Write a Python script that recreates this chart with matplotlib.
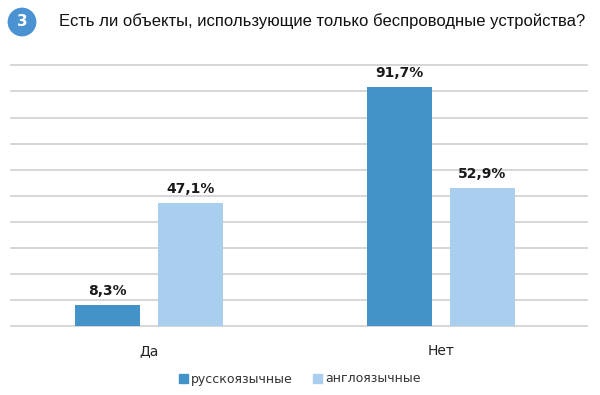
import matplotlib
matplotlib.use("Agg")
import matplotlib.pyplot as plt
from matplotlib.patches import Patch

# ────────────────────────────────────────
#   Data
# ────────────────────────────────────────
categories = ["Да", "Нет"]
series_names = ["русскоязычные", "англоязычные"]
russian_vals = [8.3, 91.7]
english_vals = [47.1, 52.9]
value_labels_ru = ["8,3%", "91,7%"]
value_labels_en = ["47,1%", "52,9%"]

title = "Есть ли объекты, использующие только беспроводные устройства?"

DARK = "#4393C8"
LIGHT = "#AACEEE"
GRID = "#CFCFCF"

fig = plt.figure(figsize=(6, 3.95), dpi=100, facecolor="white")
ax = fig.add_axes([11 / 600, 1 - 326.3 / 395, 576 / 600, 261 / 395])

x = list(range(len(categories)))
w = 0.223
off = 0.142
bars_ru = ax.bar([i - off for i in x], russian_vals, width=w, color=DARK, zorder=3)
bars_en = ax.bar([i + off for i in x], english_vals, width=w, color=LIGHT, zorder=3)

for bars, labels in ((bars_ru, value_labels_ru), (bars_en, value_labels_en)):
    for b, lab in zip(bars, labels):
        ax.annotate(lab, (b.get_x() + b.get_width() / 2, b.get_height()),
                    xytext=(0, 5), textcoords="offset points",
                    ha="center", va="bottom", fontsize=10, fontweight="bold",
                    color="#1a1a1a")

ax.set_xlim(-0.473, 1.5)
ax.set_ylim(0, 100)
ax.set_yticks(range(0, 101, 10))
ax.yaxis.grid(True, color=GRID, linewidth=1.2, zorder=0)
for gl in ax.get_ygridlines():
    gl.set_clip_on(False)
ax.tick_params(left=False, labelleft=False, bottom=False)
ax.set_xticks(x)
ax.set_xticklabels(categories, fontsize=10, color="#222222")
ax.tick_params(axis="x", pad=9)
for s in ax.spines.values():
    s.set_visible(False)

# legend
handles = [Patch(color=DARK), Patch(color=LIGHT)]
fig.legend(handles, series_names, loc="center", bbox_to_anchor=(0.5, 1 - 379 / 395),
           ncol=2, frameon=False, fontsize=9, handlelength=0.7, handleheight=0.7,
           handletextpad=0.3, columnspacing=1.6, labelcolor="#333333")

# numbered circle + title
fig.text(22 / 600, 1 - 22 / 395, "3", ha="center", va="center", color="white",
         fontsize=11, fontweight="bold",
         bbox=dict(boxstyle="circle,pad=0.45", fc="#4A92D2", ec="none"))
fig.text(59 / 600, 1 - 21 / 395, title, ha="left", va="center", fontsize=12,
         family=["Liberation Sans", "DejaVu Sans"], color="#111111")

fig.savefig("out.png", dpi=100, facecolor="white")
